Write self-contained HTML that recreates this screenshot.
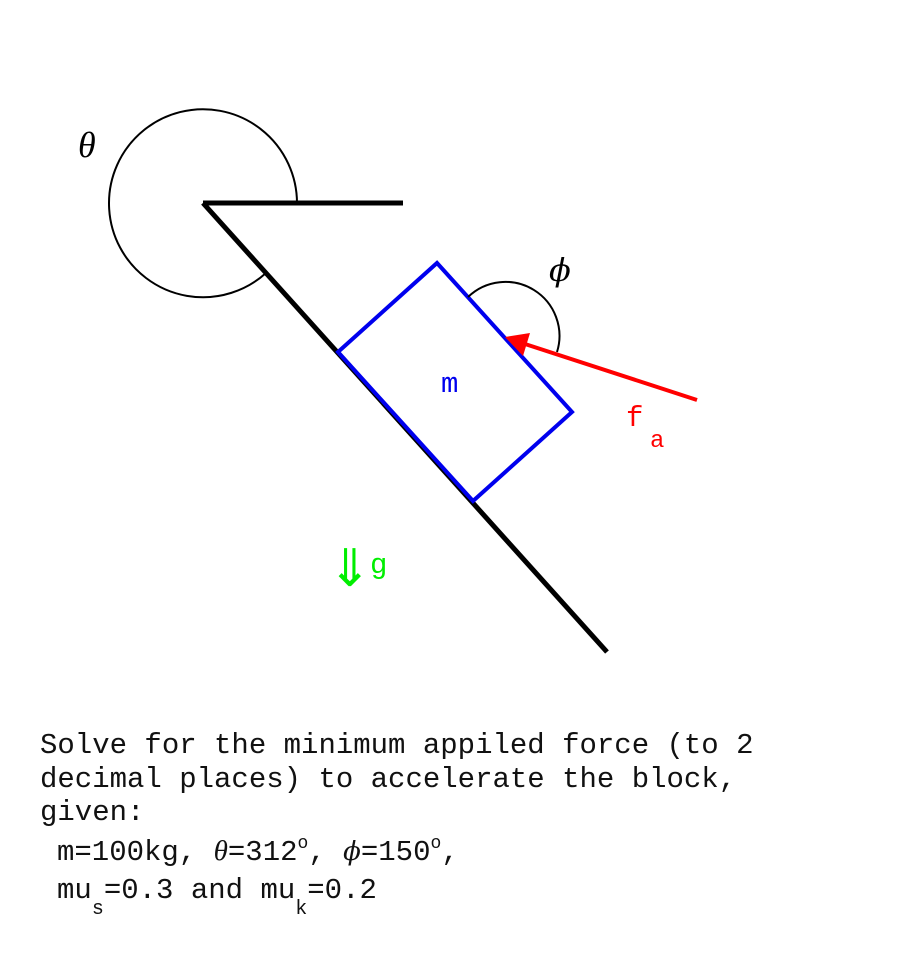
<!DOCTYPE html>
<html><head><style>body{margin:0;background:#fff}svg{display:block}</style></head>
<body>
<svg width="900" height="976" xmlns="http://www.w3.org/2000/svg">
<rect width="900" height="976" fill="#fff"/>
<path d="M297,203 A94,94 0 1 0 266,273" fill="none" stroke="#000" stroke-width="2"/>
<line x1="203" y1="203" x2="403" y2="203" stroke="#000" stroke-width="5"/>
<line x1="203" y1="203" x2="607" y2="652" stroke="#000" stroke-width="5"/>
<text x="78" y="157" font-family="Liberation Serif, serif" font-style="italic" font-size="36">θ</text>
<polygon points="338,352 437,263 572,412 473,501" fill="none" stroke="#0000ee" stroke-width="4"/>
<path d="M468,297 A54,54 0 0 1 557,352" fill="none" stroke="#000" stroke-width="2"/>
<text x="549" y="281" font-family="DejaVu Serif, serif" font-style="italic" font-size="32">ϕ</text>
<line x1="697" y1="400" x2="525" y2="344" stroke="#ff0000" stroke-width="4"/>
<polygon points="505,337 530,333 523,356" fill="#ff0000"/>
<text x="441" y="392" font-family="Liberation Mono, monospace" font-size="29" fill="#0000ee">m</text>
<text x="626" y="426" font-family="Liberation Mono, monospace" font-size="29" fill="#ff0000">f</text>
<text x="650" y="447" font-family="Liberation Mono, monospace" font-size="24" fill="#ff0000">a</text>
<text x="328" y="586" font-family="DejaVu Sans, sans-serif" font-size="52" fill="#00ee00">⇓</text>
<text x="370" y="573" font-family="Liberation Mono, monospace" font-size="29" fill="#00ee00">g</text>
<g font-family="Liberation Mono, monospace" font-size="29" fill="#111">
<text x="40" y="753">Solve for the minimum appiled force (to 2</text>
<text x="40" y="787">decimal places) to accelerate the block,</text>
<text x="40" y="820">given:</text>
<text x="57" y="860">m=100kg, <tspan font-family="Liberation Serif, serif" font-style="italic">θ</tspan>=312<tspan font-size="18" dy="-12">o</tspan><tspan dy="12">, </tspan><tspan font-family="DejaVu Serif, serif" font-style="italic" font-size="26">ϕ</tspan>=150<tspan font-size="18" dy="-12">o</tspan><tspan dy="12">,</tspan></text>
<text x="57" y="898">mu<tspan font-size="20" dy="16">s</tspan><tspan dy="-16">=0.3 and mu</tspan><tspan font-size="20" dy="16">k</tspan><tspan dy="-16">=0.2</tspan></text>
</g>
</svg>
</body></html>
